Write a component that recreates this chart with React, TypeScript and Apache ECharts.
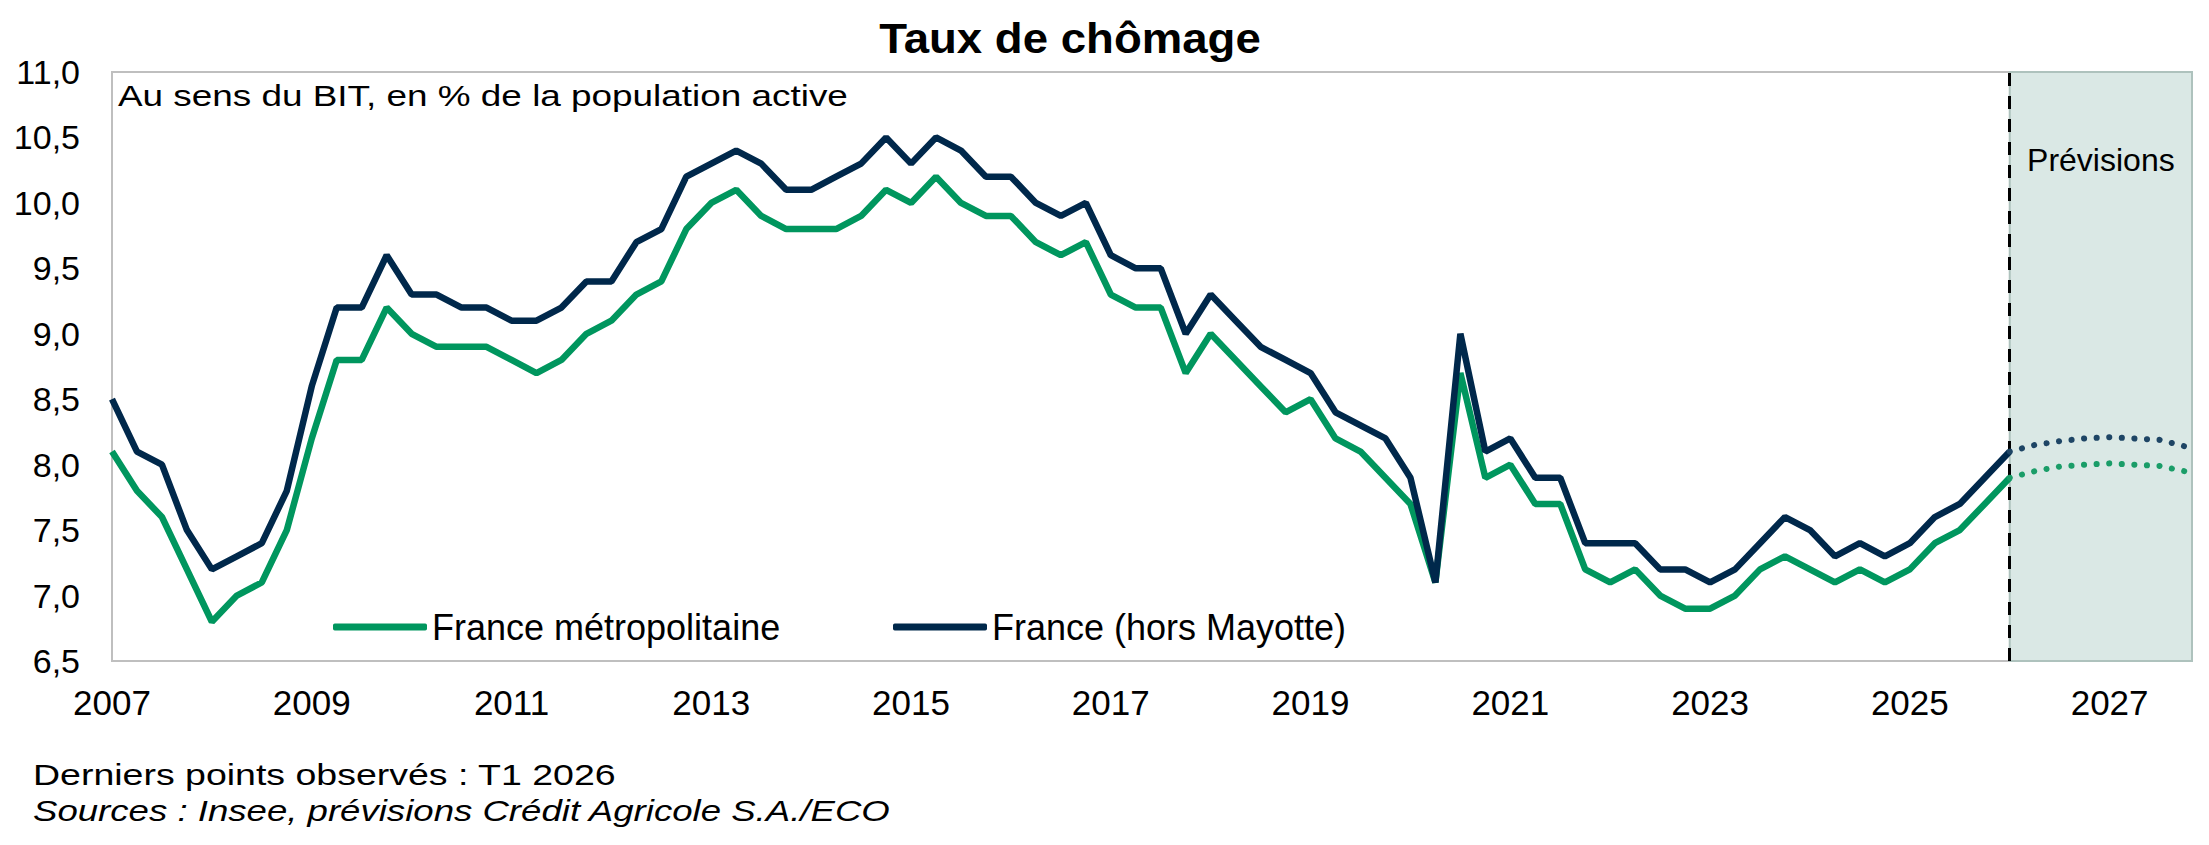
import React, { useEffect, useRef } from "react";
import * as echarts from "echarts";

// Quarterly unemployment rate, T1 2007 .. T1 2026 (observed)
const metropole: number[] = [
  8.1, 7.8, 7.6, 7.2,
  6.8, 7.0, 7.1, 7.5,
  8.2, 8.8, 8.8, 9.2,
  9.0, 8.9, 8.9, 8.9,
  8.8, 8.7, 8.8, 9.0,
  9.1, 9.3, 9.4, 9.8,
  10.0, 10.1, 9.9, 9.8,
  9.8, 9.8, 9.9, 10.1,
  10.0, 10.2, 10.0, 9.9,
  9.9, 9.7, 9.6, 9.7,
  9.3, 9.2, 9.2, 8.7,
  9.0, 8.8, 8.6, 8.4,
  8.5, 8.2, 8.1, 7.9,
  7.7, 7.1, 8.7, 7.9,
  8.0, 7.7, 7.7, 7.2,
  7.1, 7.2, 7.0, 6.9,
  6.9, 7.0, 7.2, 7.3,
  7.2, 7.1, 7.2, 7.1,
  7.2, 7.4, 7.5, 7.7,
  7.9,
];

const franceHorsMayotte: number[] = [
  8.5, 8.1, 8.0, 7.5,
  7.2, 7.3, 7.4, 7.8,
  8.6, 9.2, 9.2, 9.6,
  9.3, 9.3, 9.2, 9.2,
  9.1, 9.1, 9.2, 9.4,
  9.4, 9.7, 9.8, 10.2,
  10.3, 10.4, 10.3, 10.1,
  10.1, 10.2, 10.3, 10.5,
  10.3, 10.5, 10.4, 10.2,
  10.2, 10.0, 9.9, 10.0,
  9.6, 9.5, 9.5, 9.0,
  9.3, 9.1, 8.9, 8.8,
  8.7, 8.4, 8.3, 8.2,
  7.9, 7.1, 9.0, 8.1,
  8.2, 7.9, 7.9, 7.4,
  7.4, 7.4, 7.2, 7.2,
  7.1, 7.2, 7.4, 7.6,
  7.5, 7.3, 7.4, 7.3,
  7.4, 7.6, 7.7, 7.9,
  8.1,
];

// Forecasts, T2 2026 .. T4 2027
const metropoleForecast: number[] = [7.95, 7.985, 8.0, 8.01, 8.0, 7.99, 7.95];
const franceForecast: number[] = [8.15, 8.18, 8.2, 8.21, 8.2, 8.19, 8.14];

// One label every two years (8 quarters)
const yearLabels: string[] = [
  "2007", "2009", "2011", "2013", "2015", "2017",
  "2019", "2021", "2023", "2025", "2027",
];

const seriesNames = ["France métropolitaine", "France (hors Mayotte)"];

const GREEN = "#00965E";
const NAVY = "#00284B";
const FONT = "'Liberation Sans', Arial, sans-serif";

const lastObs = metropole.length - 1;
const xMax = lastObs + metropoleForecast.length + 0.3;

const toPairs = (vals: number[], start = 0) => vals.map((v, i) => [start + i, v]);

export default function App() {
  const ref = useRef<HTMLDivElement>(null);

  useEffect(() => {
    if (!ref.current) return;
    const chart = echarts.init(ref.current, undefined, { renderer: "svg" });

    const dotted = { type: [0.1, 12.5] as any, cap: "round" as const, width: 6 };

    const option: any = {
      animation: false,
      backgroundColor: "#ffffff",
      grid: {
        left: 112,
        right: 17,
        top: 72,
        bottom: 184,
        show: true,
        borderColor: "#BFBFBF",
        borderWidth: 2,
        backgroundColor: "transparent",
      },
      xAxis: {
        type: "value",
        min: 0,
        max: xMax,
        interval: 8,
        axisLine: { show: false },
        axisTick: { show: false },
        splitLine: { show: false },
        axisLabel: {
          color: "#000",
          fontSize: 35,
          fontFamily: FONT,
          margin: 24,
          formatter: (v: number) => (v % 8 === 0 ? yearLabels[v / 8] ?? "" : ""),
        },
      },
      yAxis: {
        type: "value",
        min: 6.5,
        max: 11,
        interval: 0.5,
        axisLine: { show: false },
        axisTick: { show: false },
        splitLine: { show: false },
        axisLabel: {
          color: "#000",
          fontSize: 34,
          fontFamily: FONT,
          margin: 32,
          formatter: (v: number) => v.toFixed(1).replace(".", ","),
        },
      },
      legend: [
        {
          data: [seriesNames[0]],
          left: 333,
          top: 607,
          padding: 0,
          icon: "roundRect",
          itemWidth: 94,
          itemHeight: 7,
          textStyle: { fontSize: 36, color: "#000", fontFamily: FONT, lineHeight: 40 },
        },
        {
          data: [seriesNames[1]],
          left: 893,
          top: 607,
          padding: 0,
          icon: "roundRect",
          itemWidth: 94,
          itemHeight: 7,
          textStyle: { fontSize: 36, color: "#000", fontFamily: FONT, lineHeight: 40 },
        },
      ],
      series: [
        {
          name: seriesNames[0],
          type: "line",
          data: toPairs(metropole),
          showSymbol: false,
          symbol: "none",
          color: GREEN,
          itemStyle: { color: GREEN },
          lineStyle: { color: GREEN, width: 6.5 },
          z: 3,
          markArea: {
            silent: true,
            z: 1,
            itemStyle: { color: "#DAE8E5", borderColor: "#AEC2BD", borderWidth: 2 },
            label: {
              show: true,
              position: "insideTop",
              distance: 73,
              color: "#000",
              fontSize: 32,
              fontFamily: FONT,
            },
            data: [[{ name: "Prévisions", xAxis: lastObs }, { xAxis: xMax }]],
          },
          markLine: {
            silent: true,
            z: 2,
            symbol: "none",
            label: { show: false },
            lineStyle: { color: "#000", width: 3, type: [13, 10] },
            data: [{ xAxis: lastObs }],
          },
        },
        {
          name: seriesNames[1],
          type: "line",
          data: toPairs(franceHorsMayotte),
          showSymbol: false,
          symbol: "none",
          color: NAVY,
          itemStyle: { color: NAVY },
          lineStyle: { color: NAVY, width: 6.5 },
          z: 4,
        },
        {
          name: "France métropolitaine — prévisions",
          type: "line",
          data: toPairs([metropole[lastObs], ...metropoleForecast], lastObs),
          showSymbol: false,
          symbol: "none",
          color: "#1A9D68",
          lineStyle: { color: "#1A9D68", ...dotted },
          z: 3,
        },
        {
          name: "France (hors Mayotte) — prévisions",
          type: "line",
          data: toPairs([franceHorsMayotte[lastObs], ...franceForecast], lastObs),
          showSymbol: false,
          symbol: "none",
          color: "#1E4565",
          lineStyle: { color: "#1E4565", ...dotted },
          z: 4,
        },
      ],
      graphic: [
        {
          type: "text",
          x: 1070,
          y: 38,
          scaleX: 1.06,
          style: {
            text: "Taux de chômage",
            fontSize: 43,
            fontWeight: "bold",
            fontFamily: FONT,
            fill: "#000",
            align: "center",
            verticalAlign: "middle",
          },
        },
        {
          type: "text",
          x: 118,
          y: 96,
          scaleX: 1.23,
          z: 10,
          style: {
            text: "Au sens du BIT, en % de la population active",
            fontSize: 30,
            fontFamily: FONT,
            fill: "#000",
            align: "left",
            verticalAlign: "middle",
          },
        },
        {
          type: "text",
          x: 33,
          y: 774,
          scaleX: 1.25,
          style: {
            text: "Derniers points observés : T1 2026",
            fontSize: 30,
            fontFamily: FONT,
            fill: "#000",
            align: "left",
            verticalAlign: "middle",
          },
        },
        {
          type: "text",
          x: 33,
          y: 811,
          scaleX: 1.22,
          style: {
            text: "Sources : Insee, prévisions Crédit Agricole S.A./ECO",
            fontSize: 30,
            fontStyle: "italic",
            fontFamily: FONT,
            fill: "#000",
            align: "left",
            verticalAlign: "middle",
          },
        },
      ],
    };

    chart.setOption(option);
    return () => chart.dispose();
  }, []);

  return (
    <div
      ref={ref}
      style={{ position: "fixed", left: 0, top: 0, width: 2209, height: 845, background: "#fff" }}
    />
  );
}
